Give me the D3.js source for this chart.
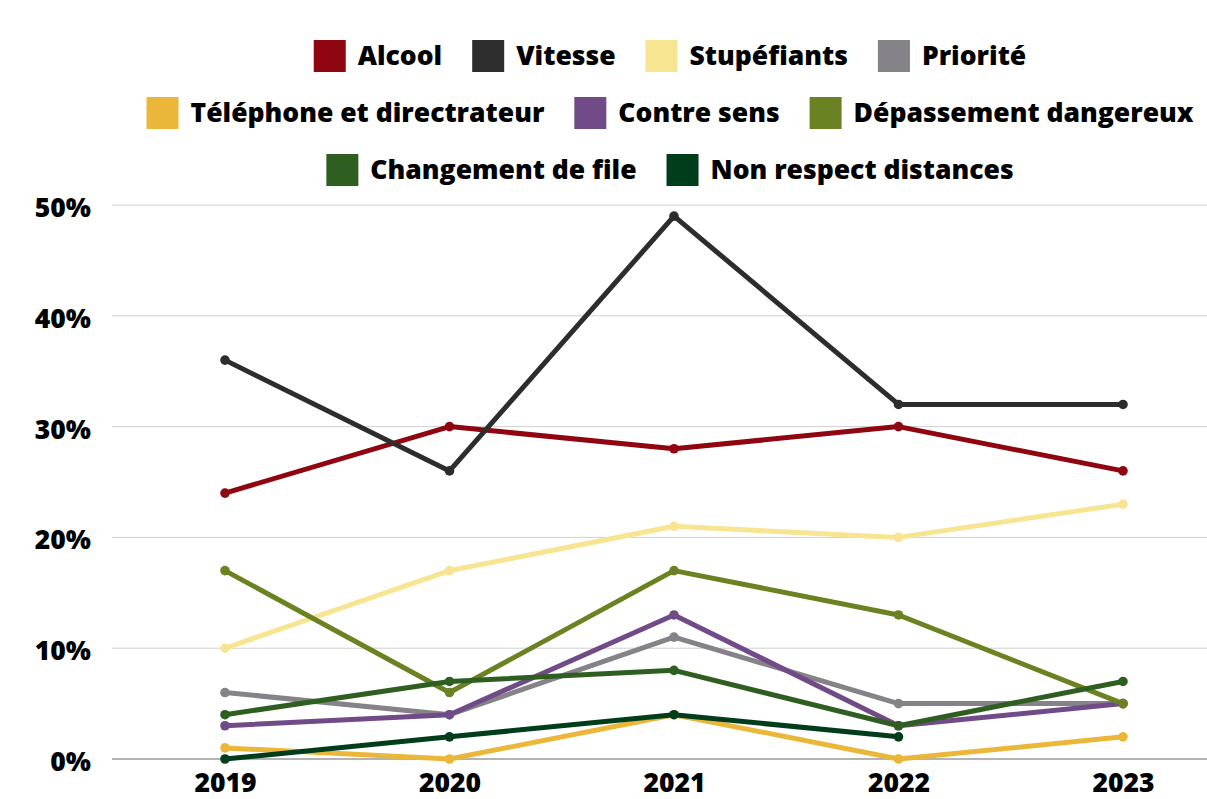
<!DOCTYPE html>
<html>
<head>
<meta charset="utf-8">
<script src="https://cdn.jsdelivr.net/npm/d3@7"></script>
<style>
  body { margin: 0; background: #fff; }
  svg text { font-family: "Open Sans", sans-serif; font-weight: 800; fill: #000; }
</style>
</head>
<body>
<svg id="chart" width="1207" height="799"></svg>
<script>
// years on the x axis
const years = ["2019", "2020", "2021", "2022", "2023"];

// series names, in legend order
const seriesNames = [
  "Alcool", "Vitesse", "Stupéfiants", "Priorité",
  "Téléphone et directrateur", "Contre sens", "Dépassement dangereux",
  "Changement de file", "Non respect distances"
];

const seriesColors = [
  "#8f0610", "#2d2d2d", "#f8e592", "#858288",
  "#ebb73a", "#714b88", "#6a8222", "#2f5f20", "#003d1b"
];

// values in percent (null = no value)
const alcool      = [24, 30, 28, 30, 26];
const vitesse     = [36, 26, 49, 32, 32];
const stupefiants = [10, 17, 21, 20, 23];
const priorite    = [6, 4, 11, 5, 5];
const telephone   = [1, 0, 4, 0, 2];
const contreSens  = [3, 4, 13, 3, 5];
const depassement = [17, 6, 17, 13, 5];
const changement  = [4, 7, 8, 3, 7];
const distances   = [0, 2, 4, 2, null];

const allValues = [alcool, vitesse, stupefiants, priorite, telephone,
                   contreSens, depassement, changement, distances];

const yTicks = [0, 10, 20, 30, 40, 50];

// legend rows (indices into seriesNames)
const legendRows = [[0, 1, 2, 3], [4, 5, 6], [7, 8]];

const series = seriesNames.map((name, i) => ({
  name: name,
  color: seriesColors[i],
  values: years.map((yr, j) => ({ year: yr, value: allValues[i][j] }))
}));

const W = 1207, H = 799;
const plotLeft = 112, plotTop = 205, plotBottom = 759;
const fontSize = "26.5px";

const svg = d3.select("#chart");

const x = d3.scalePoint().domain(years).range([225, 1123]);
const y = d3.scaleLinear().domain([0, 50]).range([plotBottom, plotTop]);

// gridlines
svg.append("g")
  .selectAll("line")
  .data(yTicks.filter(t => t > 0))
  .join("line")
    .attr("x1", plotLeft).attr("x2", W)
    .attr("y1", d => y(d)).attr("y2", d => y(d))
    .attr("stroke", "#d0d0d0")
    .attr("stroke-width", 1);

// baseline
svg.append("line")
  .attr("x1", plotLeft).attr("x2", W)
  .attr("y1", y(0)).attr("y2", y(0))
  .attr("stroke", "#b3b3b3")
  .attr("stroke-width", 2);

// y axis labels
svg.append("g")
  .attr("transform", "translate(91,0)")
  .call(d3.axisLeft(y).tickValues(yTicks).tickSize(0).tickPadding(0).tickFormat(d => d + "%"))
  .call(g => g.select(".domain").remove())
  .selectAll("text")
    .attr("dy", "0.43em")
    .style("font-size", fontSize)
    .style("font-family", "'Open Sans', sans-serif")
    .style("font-weight", 800)
    .attr("fill", "#000");

// x axis labels
svg.append("g")
  .attr("transform", `translate(0,${plotBottom + 14})`)
  .call(d3.axisBottom(x).tickSize(0).tickPadding(0))
  .call(g => g.select(".domain").remove())
  .selectAll("text")
    .style("font-size", fontSize)
    .style("font-family", "'Open Sans', sans-serif")
    .style("font-weight", 800)
    .attr("fill", "#000");

const line = d3.line()
  .defined(d => d.value !== null)
  .x(d => x(d.year))
  .y(d => y(d.value));

const plot = svg.append("g");

series.forEach(s => {
  const g = plot.append("g");
  g.append("path")
    .datum(s.values)
    .attr("fill", "none")
    .attr("stroke", s.color)
    .attr("stroke-width", 5)
    .attr("stroke-linejoin", "round")
    .attr("d", line);
  g.selectAll("circle")
    .data(s.values.filter(d => d.value !== null))
    .join("circle")
      .attr("cx", d => x(d.year))
      .attr("cy", d => y(d.value))
      .attr("r", 4.8)
      .attr("fill", s.color);
});

// legend
const rowY = [56, 113, 170];
const centerX = 670;
const box = 32, gapText = 12, gapItem = 30;

legendRows.forEach((row, r) => {
  const rowG = svg.append("g");
  let cx = 0;
  row.forEach(i => {
    const item = rowG.append("g").attr("transform", `translate(${cx},0)`);
    item.append("rect")
      .attr("x", 0).attr("y", rowY[r] - box / 2)
      .attr("width", box).attr("height", box)
      .attr("fill", seriesColors[i]);
    const t = item.append("text")
      .attr("x", box + gapText)
      .attr("y", rowY[r])
      .attr("dy", "0.35em")
      .style("font-size", fontSize)
      .text(seriesNames[i]);
    cx += box + gapText + t.node().getComputedTextLength() + gapItem;
  });
  const total = cx - gapItem;
  rowG.attr("transform", `translate(${centerX - total / 2},0)`);
});
</script>
</body>
</html>
